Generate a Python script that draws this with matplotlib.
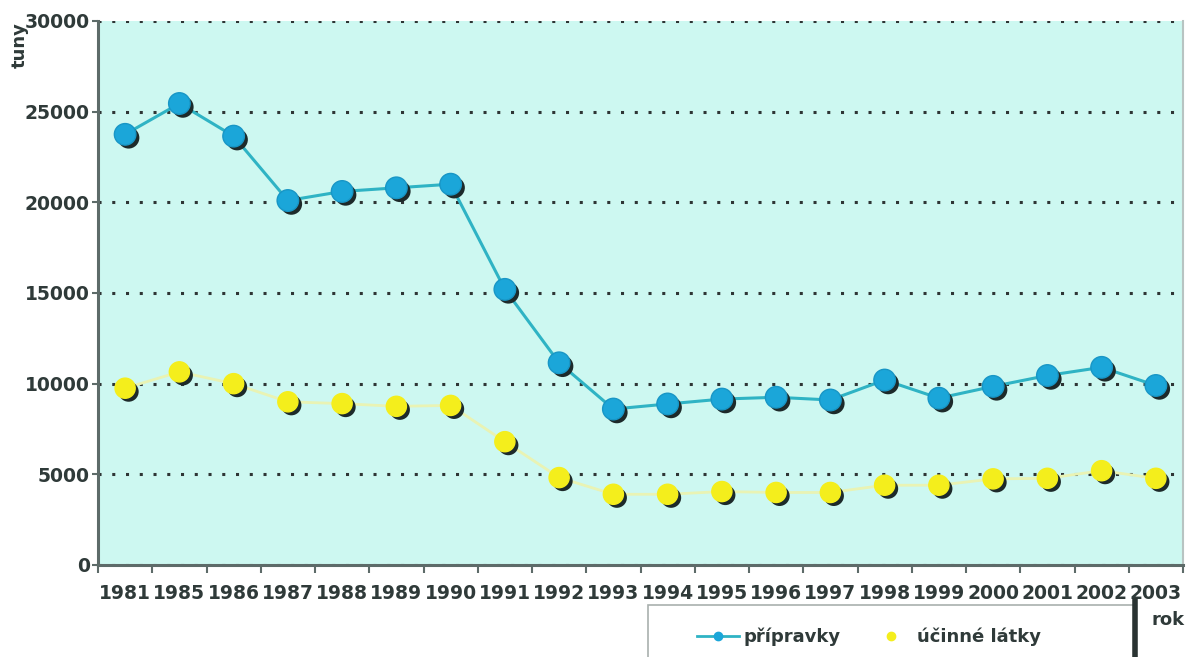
import matplotlib.pyplot as plt
import matplotlib.patheffects as pe
from matplotlib.lines import Line2D
from matplotlib.patches import Rectangle
import numpy as np

roky = ['1981', '1985', '1986', '1987', '1988', '1989', '1990', '1991', '1992', '1993',
        '1994', '1995', '1996', '1997', '1998', '1999', '2000', '2001', '2002', '2003']
pripravky = [23750, 25450, 23650, 20100, 20600, 20800, 21000, 15200, 11150, 8600,
             8880, 9150, 9250, 9100, 10200, 9200, 9850, 10450, 10900, 9900]
ucinne_latky = [9750, 10650, 10000, 9000, 8900, 8750, 8800, 6800, 4820, 3900,
                3900, 4050, 4000, 4000, 4400, 4400, 4750, 4780, 5200, 4780]

blue = '#1ba6d9'
blue_line = '#2fb3c4'
yellow = '#f4ee1c'
text_c = '#2f3a39'

fig = plt.figure(figsize=(11.91, 6.57), dpi=100)
ax = fig.add_axes([98 / 1191, 92 / 657, 1085 / 1191, 544 / 657])
ax.set_facecolor('#cdf8f1')

x = np.arange(len(roky))

# lines
ax.plot(x, pripravky, color=blue_line, lw=2.2, zorder=3)
ax.plot(x, ucinne_latky, color='#e9f3b4', lw=2.0, zorder=3)

# markers with a dark shadow
shadow = [pe.SimplePatchShadow(offset=(2.5, -2.5), shadow_rgbFace='#1d2a2a', alpha=1.0), pe.Normal()]
ax.plot(x, pripravky, ls='none', marker='o', ms=15.5, mfc=blue, mec='#1896c6', mew=1,
        zorder=4, path_effects=shadow)
ax.plot(x, ucinne_latky, ls='none', marker='o', ms=14.5, mfc=yellow, mec=yellow, mew=1,
        zorder=4, path_effects=shadow)

ax.set_xlim(-0.5, len(roky) - 0.5)
ax.set_ylim(0, 30000)
ax.set_yticks(np.arange(0, 30001, 5000))
ax.set_yticklabels([str(v) for v in range(0, 30001, 5000)])
ax.yaxis.grid(True, color='#2e3535', ls=(0, (1, 3.5)), lw=2.2)
ax.set_axisbelow(True)

ax.set_xticks(x)
ax.set_xticklabels(roky)
ax.set_xticks(np.arange(-0.5, len(roky)), minor=True)
ax.tick_params(axis='x', which='major', length=0, pad=14, labelsize=13.5, labelcolor=text_c)
ax.tick_params(axis='x', which='minor', length=6, width=1.5, color='#5d6b69', direction='out')
ax.tick_params(axis='y', length=4, width=1.5, color='#5d6b69', pad=2, labelsize=13.5,
               labelcolor=text_c)
for lab in ax.get_xticklabels() + ax.get_yticklabels():
    lab.set_fontweight('bold')

for s in ['left', 'bottom']:
    ax.spines[s].set_color('#5d6b69')
    ax.spines[s].set_linewidth(2.2)
ax.spines['top'].set_visible(False)
ax.spines['right'].set_color('#b8c4c2')
ax.spines['right'].set_linewidth(1.5)

fig.text(20 / 1191, 1 - 45 / 657, 'tuny', rotation=90, ha='center', va='center',
         fontsize=13, fontweight='bold', color=text_c)
fig.text(1168 / 1191, 1 - 620 / 657, 'rok', ha='center', va='center',
         fontsize=13, fontweight='bold', color=text_c)

# legend box (cut off by the bottom edge)
fig.patches.append(Rectangle((648 / 1191, -0.05), (1134 - 648) / 1191, 0.05 + 52 / 657,
                             transform=fig.transFigure, facecolor='white',
                             edgecolor='#a9b0ae', lw=1.2, zorder=1))
fig.lines.append(Line2D([1135 / 1191, 1135 / 1191], [0, 1 - 601 / 657],
                        transform=fig.transFigure, color='#2a3332', lw=4, zorder=2))

handles = [
    Line2D([], [], color=blue_line, lw=2, marker='o', ms=6, mfc=blue, mec=blue),
    Line2D([], [], color='none', marker='o', ms=6, mfc=yellow, mec=yellow),
]
leg = fig.legend(handles, ['přípravky', 'účinné látky'], loc='center left',
                 bbox_to_anchor=(688 / 1191, 1 - 637 / 657), ncol=2, frameon=False,
                 prop={'size': 13, 'weight': 'bold'}, handlelength=2.3,
                 columnspacing=1.6, handletextpad=0.3, borderpad=0)
leg.set_zorder(3)
for t in leg.get_texts():
    t.set_color(text_c)

fig.savefig('out.png', dpi=100)
